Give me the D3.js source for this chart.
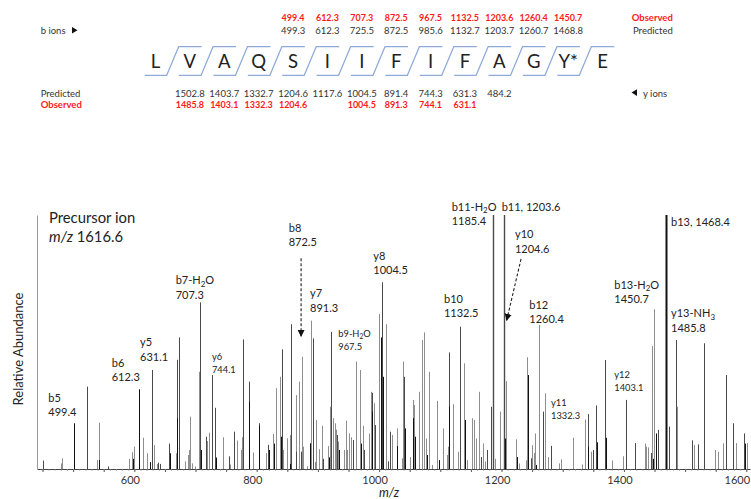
<!DOCTYPE html>
<html><head><meta charset="utf-8">
<script src="https://cdn.jsdelivr.net/npm/d3@7"></script>
<style>
body{margin:0;background:#fff;}
svg{display:block;}
</style></head><body>
<svg id="chart" width="751" height="499"></svg>
<script>
// ---------- DATA ----------
const residues = ["L","V","A","Q","S","I","I","F","I","F","A","G","Y*","E"];
const bObserved  = [499.4, 612.3, 707.3, 872.5, 967.5, 1132.5, 1203.6, 1260.4, 1450.7]; // b5..b13
const bPredicted = [499.3, 612.3, 725.5, 872.5, 985.6, 1132.7, 1203.7, 1260.7, 1468.8];
const yPredicted = [1502.8, 1403.7, 1332.7, 1204.6, 1117.6, 1004.5, 891.4, 744.3, 631.3, 484.2]; // y13..y4
const yObserved  = [1485.8, 1403.1, 1332.3, 1204.6, null, 1004.5, 891.3, 744.1, 631.1, null];
const xTickLabels = [600, 800, 1000, 1200, 1400, 1600];

// [m/z, relative abundance]
const blackPeaks = [[501,18],[542.8,3.5],[597.4,4],[608.2,31.4],[625.6,2.7],[658.3,6.2],[670.2,20],[708.5,7.5],
 [733.5,4.5],[787.9,26.5],[804.2,17],[820.6,7.5],[828.3,10],[839.7,12.7],[855,2],[886.6,10.1],[918.6,4.6],[935,7.5],
 [970.4,10],[987.9,22.6],[1002.6,51.8],[1005.9,36.3],[1029,9],[1042.3,16],[1055.9,20],[1058.7,12.7],[1077.8,5.5],
 [1098.4,3.5],[1114.7,24.5],[1140.4,19.3],[1205.2,12],[1224.8,4.7],[1243.8,37],[1256.4,1.6],[1341.3,8.8],[1355.6,10.5],
 [1370.3,12.3],[1448.2,4],[1452.1,14],[1468.4,100],[1597.9,10]];
const darkPeaks = [[451.3,3.3],[523.2,32.4],[556.5,1],[628.4,39],[638.7,2.5],[642,2],[657.2,10],[669.3,43],[673.5,51.8],
 [707.3,65.6],[717.1,12.7],[727,37],[732.3,24.1],[754.7,5],[763.4,14.7],[778.1,51],[787.4,34.4],[803.7,18],[819,9.5],
 [840.8,47.1],[856,57],[863.7,6.8],[871.9,6.8],[892.5,51.4],[907.8,4],[921.9,54],[931.2,13.4],[957.8,11.4],[974.8,7.5],
 [988.9,30],[993.3,17.3],[1005.2,73.5],[1015,3],[1017.8,14.7],[1040.7,36.3],[1114.2,45.9],[1132.7,56],[1166,4.7],
 [1175.8,7.5],[1182.8,24.5],[1185.6,100],[1204.1,100],[1247.7,4.2],[1268.3,22.6],[1281.4,9.1],[1340.8,21.6],[1349.5,7.5],
 [1354.9,25],[1369.1,42.9],[1403.5,27.2],[1418.1,10.2],[1444.3,6.3],[1456.3,15.4],[1473.3,16.7],[1484.7,50.8],
 [1511.8,11.3],[1521.6,9.7],[1530.9,49.5],[1566.3,37],[1578.8,18],[1596.8,14]];
const grayPeaks = [[479.7,2.2],[481.9,4.2],[538.5,3.6],[541.8,18.2],[591.8,4],[595.7,6.6],[599,8.8],[613.7,12.3],
 [620.2,6.2],[632.2,9.4],[636.6,2],[667.6,6.2],[682.8,3],[687.7,5.5],[689.4,7.5],[691.5,20.6],[693.8,2.2],[699.2,1],
 [705.2,38.3],[719.3,11],[722.5,14.3],[744.4,12.5],[756.4,1.8],[767.3,11.2],[774.3,7.5],[776.5,12.5],[793.5,6.5],
 [815.2,6.2],[826.6,13.8],[832,31.8],[838.5,36.3],[842.5,7.5],[849.5,12.1],[854.4,13.4],[864.7,29.1],[869.1,34.4],
 [873.5,44.2],[875.6,8.8],[882.2,1],[888.2,58.4],[894.8,2.8],[896.9,19.3],[902.3,7.8],[906.2,17],[917,9],[920.3,24.5],
 [925.2,20],[927.4,18],[929.6,15.5],[933.3,10.8],[943.2,7.5],[945.4,19],[947.1,7.5],[950.8,14],[954.1,12.5],[962.7,42.3],
 [968.3,39],[973.2,17],[984,14],[986.3,30.4],[992.2,25.9],[1000.3,61],[1011.3,57],[1021.1,13.4],[1030,16],[1036.9,4.2],
 [1038.5,42.3],[1050.5,4.7],[1055.4,27.2],[1057.5,25.2],[1064.7,30.4],[1069.6,50.8],[1073.9,53.8],[1076.1,12],
 [1081.5,38.3],[1086,1.6],[1094.1,26.8],[1104,16],[1110.5,5.5],[1113.1,8.8],[1121.2,25.5],[1129.4,6.8],[1139.2,41.6],
 [1143.1,3.5],[1152.3,20],[1154.6,19.3],[1157.9,12],[1162.8,30.4],[1169.8,10.1],[1173,3],[1188.9,4],[1197.5,22.6],
 [1207.4,34.6],[1223.2,11.7],[1228.6,2.2],[1239.5,3.4],[1242.2,44],[1250.4,9.4],[1253.1,6.3],[1255.2,14],[1260.8,56.7],
 [1270.6,29.8],[1276,4.7],[1293.5,2.2],[1297.7,3.8],[1316.8,12.3],[1331,1.8],[1336.4,19.5],[1346.2,6.8],[1380.1,3.4],
 [1398.1,5],[1417.7,10.1],[1434,10],[1435.6,8.8],[1439.9,8.5],[1446.5,48.4],[1449.8,62.9],[1486.8,24.5],[1515.1,9.4],
 [1549.4,7.5],[1553.8,6.8],[1561.4,10.1],[1583.2,10.2],[1601.6,10.2]];

// annotation text, anchored in data units [m/z, abundance of first line]
const peakLabels = [
 {ion:"b5", value:"499.4", at:[459.5,26.4]},
 {ion:"b6", value:"612.3", at:[563.1,40.2]},
 {ion:"y5", value:"631.1", at:[609.3,48.4]},
 {ion:"b7-H₂O", value:"707.3", at:[667.6,72.8]},
 {ion:"y6", value:"744.1", at:[726.9,42.9]},
 {ion:"b8", value:"872.5", at:[852.3,93.5]},
 {ion:"y7", value:"891.3", at:[887.1,67.7]},
 {ion:"b9-H₂O", value:"967.5", at:[933.3,52]},
 {ion:"y8", value:"1004.5", at:[990.5,82.3]},
 {ion:"b10", value:"1132.5", at:[1106,65.4]},
 {ion:"b11-H₂O", value:"1185.4", at:[1118.6,101.6]},
 {ion:"b11", value:"1203.6", at:[1200.3,101.6], inline:true},
 {ion:"y10", value:"1204.6", at:[1222,90.9]},
 {ion:"b12", value:"1260.4", at:[1245.4,63]},
 {ion:"y11", value:"1332.3", at:[1280.9,24.8]},
 {ion:"y12", value:"1403.1", at:[1384.3,35.8]},
 {ion:"b13-H₂O", value:"1450.7", at:[1384.3,70.9]},
 {ion:"b13", value:"1468.4", at:[1477,95.7], inline:true},
 {ion:"y13-NH₃", value:"1485.8", at:[1477,59.8]}
];
const arrows = [
 {from:[872.5,83], to:[872.5,52]},
 {from:[1231.9,82.7], to:[1208.2,58.3]}
];
const precursor = {title:"Precursor ion", mz:"1616.6", at:[460.6,97]};

// ---------- DRAW ----------
const FONT = "Lato, 'Open Sans', sans-serif";
const svg = d3.select("#chart").attr("font-family", FONT);
const smallIons = new Set(["y6","b9-H₂O","y11","y12"]);

const x = d3.scaleLinear().domain([441, 1606]).range([37, 750]);
const y = d3.scaleLinear().domain([0, 100]).range([469, 215]);
const px = v => Math.round(v) + 0.5;

// peaks
[{data:grayPeaks,color:"#8e8e8e"},{data:darkPeaks,color:"#4a4a4a"},{data:blackPeaks,color:"#111"}].forEach(s=>{
  svg.append("g").selectAll("line").data(s.data).join("line")
    .attr("x1", d=>px(x(d[0]))).attr("x2", d=>px(x(d[0])))
    .attr("y1", y(0)).attr("y2", d=>y(d[1]))
    .attr("stroke", s.color)
    .attr("stroke-width", d=> d[1]>=99 ? (s.color==="#111"?2:1.4) : 1);
});

// x axis
const gx = svg.append("g").attr("transform",`translate(0,${y(0)})`)
  .call(d3.axisBottom(x).tickValues(d3.range(450,1601,50)).tickSize(3).tickSizeOuter(0).tickPadding(4)
        .tickFormat(d=> xTickLabels.includes(d) ? d : ""));
gx.select(".domain").attr("stroke","#444");
gx.selectAll(".tick line").attr("stroke","#555");
gx.selectAll(".tick text").attr("dx", d => d === 1600 ? -9.5 : -4.5)
  .attr("font-size",11).attr("font-family",FONT).attr("fill","#333");
const gxm = svg.append("g").attr("transform",`translate(0,${y(0)})`)
  .call(d3.axisBottom(x).tickValues(d3.range(450,1601,10)).tickSize(1.5).tickFormat(""));
gxm.select(".domain").remove();
gxm.selectAll(".tick line").attr("stroke","#777");

// y axis (line only)
const gy = svg.append("g").attr("transform",`translate(${x.range()[0]},0)`)
  .call(d3.axisLeft(y).tickValues([]).tickSizeOuter(0));
gy.select(".domain").attr("stroke","#999");

svg.append("text").attr("transform",`translate(23,349) rotate(-90)`).attr("text-anchor","middle")
  .attr("font-size",13).attr("fill","#222").text("Relative Abundance");
svg.append("text").attr("x",389).attr("y",497).attr("text-anchor","middle").attr("font-size",12.5)
  .attr("font-style","italic").attr("fill","#222").text("m/z");

// text helper with subscripts
function richText(sel, str, fs){
  const subs = {"₂":"2","₃":"3"};
  const parts = str.split(/([₂₃])/).filter(p=>p.length);
  let shifted = false;
  parts.forEach(p=>{
    if (subs[p]) {
      sel.append("tspan").attr("font-size", fs*0.72).attr("dy", fs*0.22).text(subs[p]);
      shifted = true;
    } else {
      const t = sel.append("tspan").text(p);
      if (shifted) { t.attr("dy", -fs*0.22); shifted = false; }
    }
  });
}

// peak labels
peakLabels.forEach(l=>{
  const small = smallIons.has(l.ion);
  const fs = small ? 9.3 : 11;
  const gap = small ? 13 : 14.5;
  const lx = x(l.at[0]), ly = y(l.at[1]);
  const t1 = svg.append("text").attr("x",lx).attr("y",ly).attr("font-size",fs).attr("fill","#222");
  richText(t1, l.inline ? `${l.ion}, ${l.value}` : l.ion, fs);
  if (!l.inline) svg.append("text").attr("x",lx).attr("y",ly+gap).attr("font-size",fs).attr("fill","#222").text(l.value);
});

// precursor
const pt = svg.append("text").attr("x",x(precursor.at[0])).attr("y",y(precursor.at[1])).attr("font-size",14.8).attr("fill","#222");
pt.text(precursor.title);
const pt2 = svg.append("text").attr("x",x(precursor.at[0])).attr("y",y(precursor.at[1])+19).attr("font-size",14.8).attr("fill","#222");
pt2.append("tspan").attr("font-style","italic").text("m/z");
pt2.append("tspan").text(" " + precursor.mz);

// arrows
svg.append("defs").append("marker").attr("id","ah").attr("viewBox","0 0 10 10")
  .attr("refX",10).attr("refY",5).attr("markerWidth",7).attr("markerHeight",8)
  .attr("markerUnits","userSpaceOnUse").attr("orient","auto")
  .append("path").attr("d","M0,0L10,5L0,10Z").attr("fill","#111");
svg.append("g").selectAll("line").data(arrows).join("line")
  .attr("x1",d=>x(d.from[0])).attr("y1",d=>y(d.from[1]))
  .attr("x2",d=>x(d.to[0])).attr("y2",d=>y(d.to[1]))
  .attr("stroke","#222").attr("stroke-width",1.1).attr("stroke-dasharray","3,2")
  .attr("marker-end","url(#ah)");

// ---------- sequence map ----------
const seqX = d3.scalePoint().domain(d3.range(residues.length)).range([155.5, 602.5]);
const seqG = svg.append("g");
seqG.selectAll("path.cut").data(d3.range(residues.length-1)).join("path")
  .attr("d", i=>{ const m=(seqX(i)+seqX(i+1))/2; return `M${m-28},75.3H${m-6}L${m+6},46.7H${m+29}`; })
  .attr("fill","none").attr("stroke","#8eaad8").attr("stroke-width",1.2);
seqG.selectAll("text.res").data(residues).join("text")
  .attr("x",(d,i)=>seqX(i)).attr("y",68.3).attr("text-anchor","middle")
  .attr("font-size",18.5).attr("fill","#222").text(d=>d);

const bIdx = d3.range(4, 4+bObserved.length);
const yIdx = d3.range(1, 1+yPredicted.length);
seqG.selectAll("text.bo").data(bObserved).join("text")
  .attr("x",(d,i)=>seqX(bIdx[i])).attr("y",20.5).attr("text-anchor","middle")
  .attr("font-size",9).attr("font-weight","bold").attr("fill","#ff1a1a").text(d=>d.toFixed(1));
seqG.selectAll("text.bp").data(bPredicted).join("text")
  .attr("x",(d,i)=>seqX(bIdx[i])).attr("y",33.5).attr("text-anchor","middle")
  .attr("font-size",9.5).attr("fill","#333").text(d=>d.toFixed(1));
seqG.selectAll("text.yp").data(yPredicted).join("text")
  .attr("x",(d,i)=>seqX(yIdx[i])).attr("y",96.5).attr("text-anchor","middle")
  .attr("font-size",9.5).attr("fill","#333").text(d=>d.toFixed(1));
seqG.selectAll("text.yo").data(yObserved.map((d,i)=>({d,i})).filter(o=>o.d!==null)).join("text")
  .attr("x",o=>seqX(yIdx[o.i])).attr("y",108).attr("text-anchor","middle")
  .attr("font-size",9).attr("font-weight","bold").attr("fill","#ff1a1a").text(o=>o.d.toFixed(1));

// row labels
seqG.append("text").attr("x",40.7).attr("y",33.5).attr("font-size",9.5).attr("fill","#333").text("b ions");
seqG.append("path").attr("d","M72,27L77.5,30.2L72,33.4Z").attr("fill","#111");
seqG.append("text").attr("x",631.7).attr("y",20.5).attr("font-size",9.5).attr("font-weight","bold").attr("fill","#ff1a1a").text("Observed");
seqG.append("text").attr("x",633).attr("y",33.5).attr("font-size",9.5).attr("fill","#333").text("Predicted");
seqG.append("text").attr("x",40.7).attr("y",96.5).attr("font-size",9.5).attr("fill","#333").text("Predicted");
seqG.append("text").attr("x",40.7).attr("y",108).attr("font-size",9.5).attr("font-weight","bold").attr("fill","#ff1a1a").text("Observed");
seqG.append("path").attr("d","M637,89.3L631.5,92.6L637,95.9Z").attr("fill","#111");
seqG.append("text").attr("x",643).attr("y",96.5).attr("font-size",9.5).attr("fill","#333").text("y ions");
</script>
</body></html>
